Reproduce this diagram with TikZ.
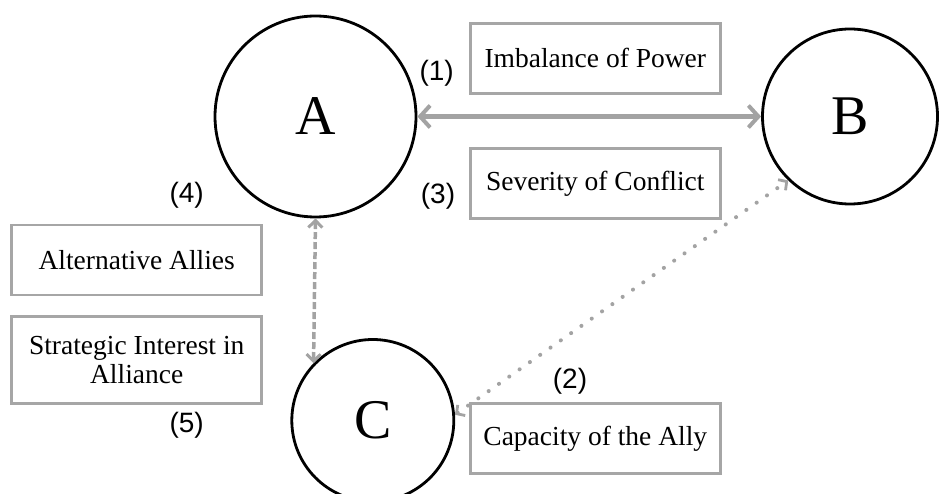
\documentclass[tikz,border=0pt]{standalone}
\usepackage{fontspec}
\setmainfont{Liberation Serif}
\newfontfamily\numfont{Liberation Sans}
\usetikzlibrary{arrows.meta}
\definecolor{linegray}{HTML}{A3A3A3}
\definecolor{boxgray}{HTML}{A6A6A6}
\tikzset{
  actor/.style={circle, draw=black, line width=2.8pt, inner sep=0pt, font=\fontsize{56}{60}\selectfont},
  factor/.style={rectangle, draw=boxgray, line width=2.6pt, inner sep=2pt, align=center,
    minimum width=250pt, minimum height=70pt, font=\fontsize{27.5}{28.5}\selectfont},
  numlabel/.style={inner sep=0pt, font=\numfont\fontsize{28}{30}\selectfont},
}
\begin{document}
\begin{tikzpicture}[x=1pt, y=-1pt]
\useasboundingbox (0,0) rectangle (941,494);
% actors
\node[actor, minimum size=201pt] (A) at (315.5,116.5) {A};
\node[actor, minimum size=175pt] (B) at (850,116.5) {B};
\node[actor, minimum size=162pt] (C) at (372.8,420.5) {C};
% factor boxes
\node[factor] (imb) at (595.3,58.3) {Imbalance of Power};
\node[factor] (sev) at (595.3,183.8) {Severity of Conflict};
\node[factor] (alt) at (136.7,260) {Alternative Allies};
\node[factor, minimum height=86.6pt] (str) at (136.7,360) {Strategic Interest in\\Alliance};
\node[factor] (cap) at (595.3,438.3) {Capacity of the Ally};
% number labels
\node[numlabel] (n1) at (436.7,73) {(1)};
\node[numlabel] (n3) at (438,196.7) {(3)};
\node[numlabel] (n4) at (186.7,195) {(4)};
\node[numlabel] (n5) at (186.7,425) {(5)};
\node[numlabel] (n2) at (570,381.7) {(2)};
% connectors
\draw[linegray, line width=4.5pt, {Straight Barb[length=10pt, width=22pt, line width=4pt]}-{Straight Barb[length=10pt, width=22pt, line width=4pt]}] (A.east) -- (B.west);
\draw[linegray, line width=3.5pt, dash pattern=on 7pt off 3pt, {Straight Barb[length=7pt, width=14pt, line width=3pt]}-{Straight Barb[length=7pt, width=14pt, line width=3pt]}] (A.south) -- (C.136);
\draw[linegray, line width=4pt, line cap=round, dash pattern=on 0.1pt off 12.5pt, {Straight Barb[length=6pt, width=13pt, line width=2.8pt]}-{Straight Barb[length=6pt, width=13pt, line width=2.8pt]}] (C.4) -- (B.226);
\end{tikzpicture}
\end{document}
